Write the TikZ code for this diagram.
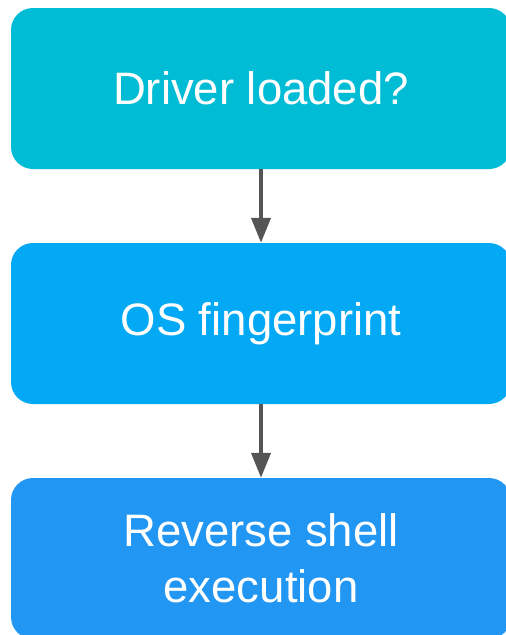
\documentclass[tikz,border=0pt]{standalone}
\usepackage{fontspec}
\setmainfont{Liberation Sans}
\usetikzlibrary{arrows.meta}
\definecolor{boxA}{HTML}{00BCD4}
\definecolor{boxB}{HTML}{03A9F4}
\definecolor{boxC}{HTML}{2196F3}
\definecolor{arrowgray}{HTML}{555555}
\tikzset{
  flowbox/.style={rectangle, rounded corners=22pt, minimum width=500pt, minimum height=161pt,
    text=white, align=center, inner sep=0pt,
    font=\fontsize{45.5}{56}\selectfont},
  flowarrow/.style={draw=arrowgray, line width=4pt,
    -{Triangle[length=25pt,width=19pt]}}
}
\begin{document}
\begin{tikzpicture}[x=1pt,y=-1pt]
\useasboundingbox (0,0) rectangle (506,635);
\clip (0,0) rectangle (506,635);
\node[flowbox, fill=boxA] (a) at (261,88.5) {Driver loaded?};
\node[flowbox, fill=boxB] (b) at (261,323.5) {OS fingerprint};
\node[flowbox, fill=boxC] (c) at (261,558.5) {Reverse shell\\execution};
\draw[flowarrow] (a) -- (b);
\draw[flowarrow] (b) -- (c);
\end{tikzpicture}
\end{document}
